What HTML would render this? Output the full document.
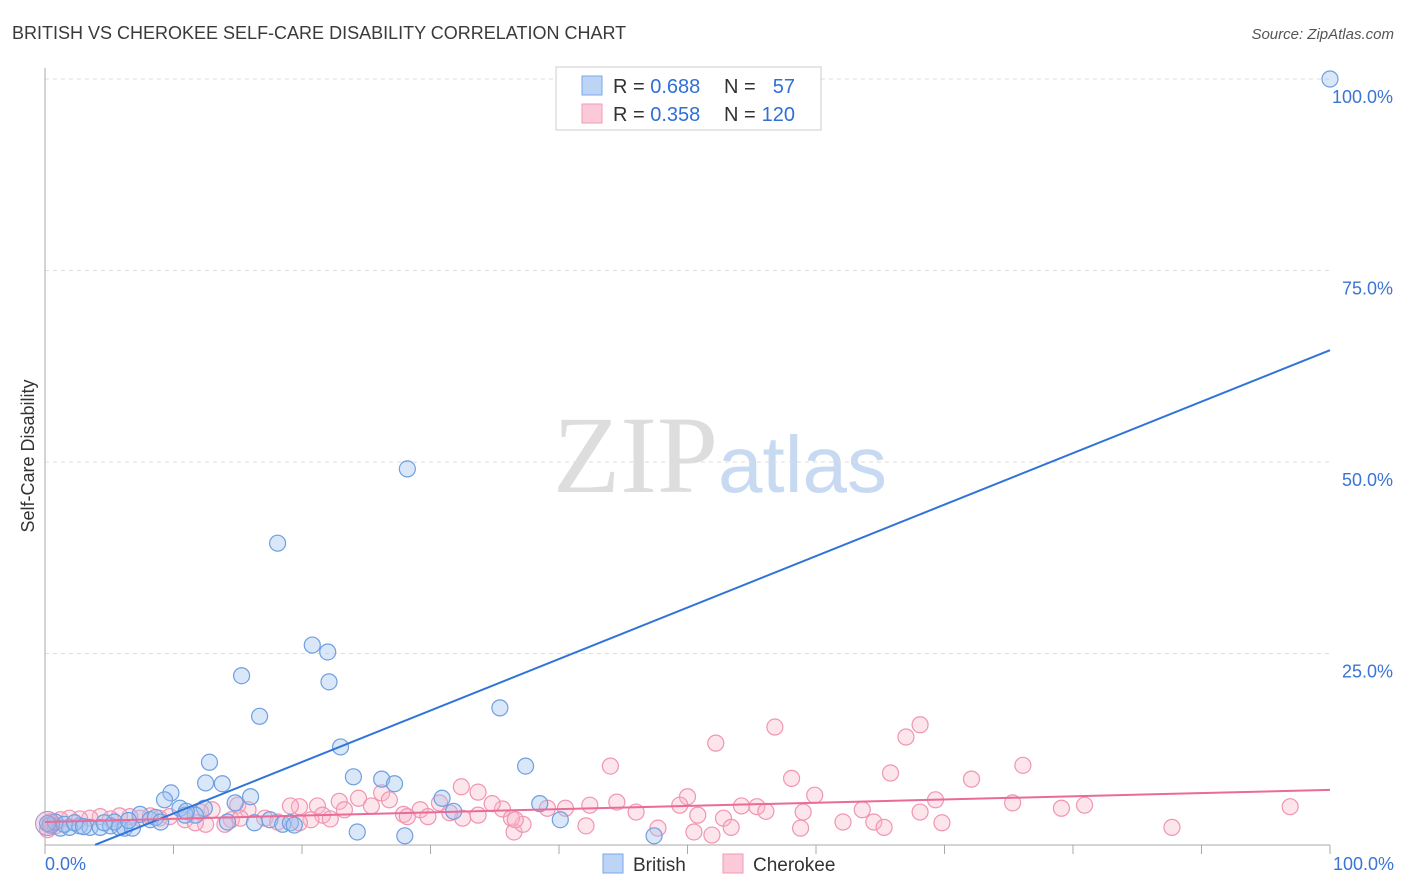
<!DOCTYPE html>
<html><head><meta charset="utf-8"><style>
body{margin:0;background:#fff;font-family:"Liberation Sans",sans-serif;}
svg{display:block}
</style></head><body>
<svg id="chart" width="1406" height="892">
<text x="12" y="39" font-size="18" fill="#3a3a3a">BRITISH VS CHEROKEE SELF-CARE DISABILITY CORRELATION CHART</text>
<text x="1394" y="39" font-size="15" fill="#555" font-style="italic" text-anchor="end">Source: ZipAtlas.com</text>
<g>
<text x="553" y="492" font-size="110" font-family="Liberation Serif,serif" fill="#ddd">ZIP</text>
<text x="718" y="492" font-size="80" fill="#c8daf2">atlas</text>
</g>
<g id="grid"></g>
<g id="axes"></g>
<g id="pts"></g>
<g id="lines"></g>
<text transform="translate(34,456) rotate(-90)" font-size="18" fill="#333" text-anchor="middle">Self-Care Disability</text>
<g>
<rect x="556" y="67" width="265" height="63" fill="#fff" stroke="#ccc"/>
<rect x="582" y="76" width="20" height="19" fill="#bcd5f5" stroke="#7aa7e6"/>
<rect x="582" y="104" width="20" height="19" fill="#fcc9d8" stroke="#f09ab5"/>
<text x="613" y="93" font-size="20" fill="#333">R = <tspan fill="#2f6fd6">0.688</tspan></text>
<text x="724" y="93" font-size="20" fill="#333">N =</text>
<text x="795" y="93" font-size="20" fill="#2f6fd6" text-anchor="end">57</text>
<text x="613" y="121" font-size="20" fill="#333">R = <tspan fill="#2f6fd6">0.358</tspan></text>
<text x="724" y="121" font-size="20" fill="#333">N =</text>
<text x="795" y="121" font-size="20" fill="#2f6fd6" text-anchor="end">120</text>
</g>
<g>
<rect x="603" y="854" width="20" height="19" fill="#bcd5f5" stroke="#7aa7e6"/>
<text x="633" y="871" font-size="19" fill="#333">British</text>
<rect x="723" y="854" width="20" height="19" fill="#fcc9d8" stroke="#f09ab5"/>
<text x="753" y="871" font-size="19" fill="#333">Cherokee</text>
</g>
</svg>
<script>
const yTicks=[25,50,75,100];
const yTickLabels=["25.0%","50.0%","75.0%","100.0%"];
const xEndLabels=["0.0%","100.0%"];
const britishX=[100,28.2,18.1,20.8,22.0,15.3,22.1,16.7,35.4,12.8,23.0,37.4,12.5,13.8,24.0,26.2,27.2,9.8,9.3,16.0,14.8,30.9,38.5,31.8,10.5,12.4,11.7,10.9,7.4,8.2,40.1,16.3,17.5,18.5,19.1,19.4,14.2,24.3,28.0,47.4,0.4,1.2,1.9,2.7,3.5,4.3,5.1,5.8,6.2,6.8,5.4,4.6,0.8,1.5,2.3,0.2,3.0,6.5,8.6,9.0,11.0];
const britishY=[100,49.1,39.4,26.1,25.2,22.1,21.3,16.8,17.9,10.8,12.8,10.3,8.1,8.0,8.9,8.6,8.0,6.8,5.9,6.3,5.5,6.1,5.4,4.4,4.8,4.8,3.9,3.9,4.0,3.3,3.3,2.9,3.3,2.7,2.9,2.6,3.0,1.7,1.2,1.2,2.6,2.2,2.3,2.5,2.3,2.3,2.5,2.3,2.2,2.2,3.0,2.9,3.0,2.7,2.9,2.8,2.4,3.2,3.6,3.0,4.4];
const cherokeeX=[56.8,68.1,67.0,52.2,76.1,44.0,65.8,72.1,58.1,32.4,33.7,59.9,50.0,26.2,24.4,69.3,75.3,80.9,79.1,96.9,44.5,49.4,54.2,55.4,56.1,59.0,63.6,68.1,50.8,52.8,62.1,64.5,69.8,65.3,58.8,53.4,50.5,51.9,47.7,42.1,36.5,37.2,87.7,46.0,40.5,42.4,39.1,35.6,34.8,30.7,29.2,27.9,26.8,25.4,22.9,23.3,21.2,19.8,19.1,21.6,22.2,20.7,33.7,32.5,31.5,29.8,28.2,36.3,36.6,15.0,15.8,13.0,12.1,14.5,15.2,17.1,18.1,14.0,12.5,10.9,9.7,8.9,8.2,7.4,6.6,5.8,5.1,4.3,3.5,2.7,1.9,1.2,0.4,0.2,0.8,11.7,19.8];
const cherokeeY=[15.4,15.7,14.1,13.3,10.4,10.3,9.4,8.6,8.7,7.6,6.9,6.5,6.3,6.8,6.1,5.9,5.5,5.2,4.8,5.0,5.6,5.2,5.1,5.0,4.4,4.3,4.6,4.3,3.9,3.5,3.0,3.0,2.9,2.3,2.2,2.3,1.7,1.3,2.2,2.5,1.7,2.7,2.3,4.3,4.8,5.2,4.8,4.7,5.4,5.5,4.6,4.0,5.9,5.1,5.7,4.6,5.1,5.0,5.1,3.9,3.4,3.3,3.9,3.5,4.2,3.7,3.7,3.5,3.3,5.2,4.6,4.6,4.3,3.3,3.5,3.5,3.0,2.7,2.7,3.3,3.7,3.5,3.8,3.5,3.7,3.8,3.4,3.7,3.5,3.4,3.5,3.3,3.0,2.0,2.5,2.9,2.9];
const britishTrend=[-2.6,64.6];
const cherokeeTrend=[3.0,7.2];
const NS="http://www.w3.org/2000/svg";
const X=v=>45+v*12.85, Y=v=>845-v*7.66;
function mk(t,a,p){const e=document.createElementNS(NS,t);for(const k in a)e.setAttribute(k,a[k]);p.appendChild(e);return e;}
const grid=document.getElementById('grid'),axes=document.getElementById('axes'),pts=document.getElementById('pts'),lines=document.getElementById('lines');
yTicks.forEach((t,i)=>{
 const l=mk('line',{x1:45,x2:1330,y1:Y(t),y2:Y(t),stroke:'#ddd','stroke-dasharray':'4,4'},grid);
 
 
 const tx=mk('text',{x:1393,y:Y(t)+24,'font-size':18,fill:'#3b74d4','text-anchor':'end'},axes);
 tx.textContent=yTickLabels[i];
 
 
});
const ax=mk('line',{x1:45,x2:1330,y1:845,y2:845,stroke:'#aaa'},axes);


const ay=mk('line',{x1:45,x2:45,y1:68,y2:845,stroke:'#aaa'},axes);


for(let i=0;i<=10;i++){const t=mk('line',{x1:X(i*10),x2:X(i*10),y1:845,y2:854,stroke:'#aaa'},axes);
 
 }
[[0,'start',45],[100,'end',1394]].forEach((d,i)=>{const t=mk('text',{x:d[2],y:870,'font-size':18,fill:'#3b74d4','text-anchor':d[1]},axes);t.textContent=xEndLabels[i];
 
 });
function dots(xs,ys,fill,stroke,name){xs.forEach((x,i)=>{const c=mk('circle',{cx:X(x),cy:Y(ys[i]),r:8,fill:fill,stroke:stroke,'stroke-width':1.2},pts);
 
 });}
dots(cherokeeX,cherokeeY,'rgba(248,180,200,0.35)','#f095b2','cherokee-point');
dots(britishX,britishY,'rgba(160,195,240,0.4)','#6e9fe0','british-point');
const big1=mk('circle',{cx:X(0.2),cy:Y(2.8),r:12,fill:'rgba(200,160,200,0.35)',stroke:'#b08ac8'},pts);


function trend(tr,col,x0,name){const l=mk('line',{x1:X(x0),y1:Y(tr[0]+(tr[1]-tr[0])*x0/100),x2:X(100),y2:Y(tr[1]),stroke:col,'stroke-width':2},lines);
 
 }
trend(britishTrend,'#2f74d8',3.9,'british-trend-line');
trend(cherokeeTrend,'#ea6a98',0,'cherokee-trend-line');
</script>
</body></html>
